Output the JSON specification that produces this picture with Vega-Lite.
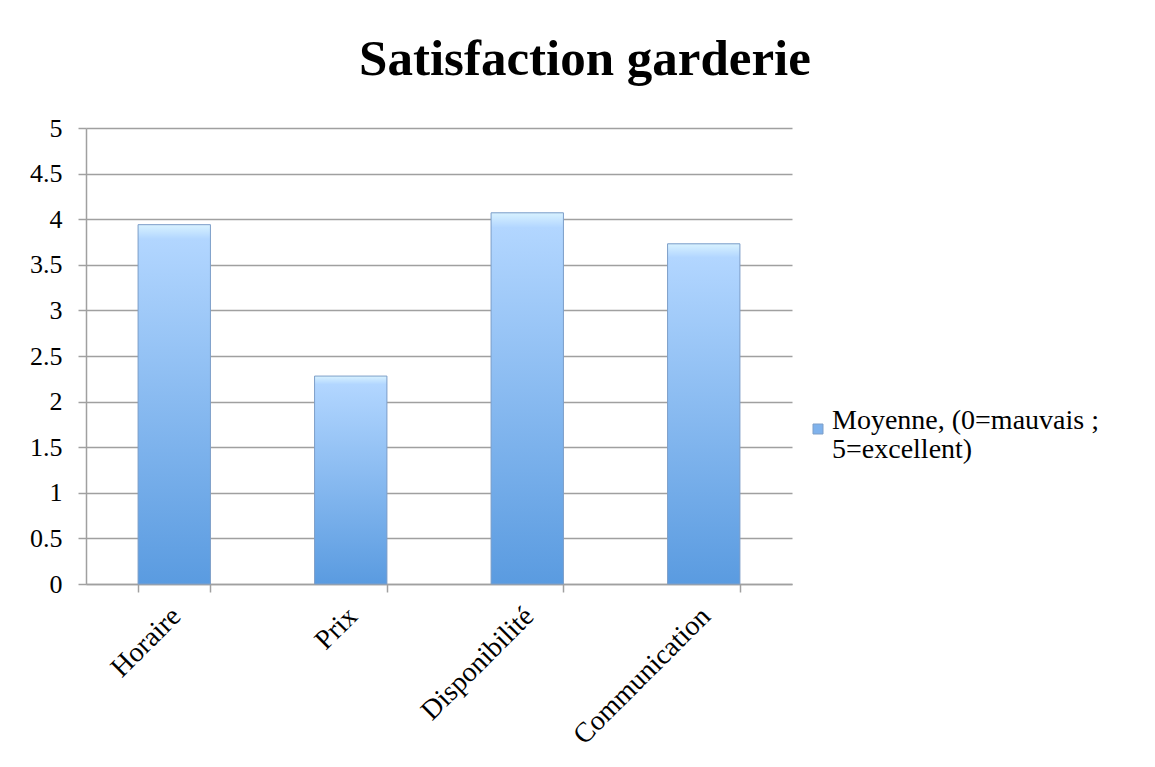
{
  "$schema": "https://vega.github.io/schema/vega-lite/v6.json",
  "autosize": {"type": "none"},
  "width": 706,
  "height": 456,
  "padding": {"left": 86, "top": 128, "right": 363, "bottom": 183},
  "background": "white",
  "title": {
    "text": "Satisfaction garderie",
    "font": "Liberation Serif",
    "fontSize": 51,
    "fontWeight": "bold",
    "color": "#000000",
    "anchor": "middle",
    "dx": 146,
    "offset": 29
  },
  "data": {
    "values": [
      {"critere": "Horaire", "moyenne": 3.94, "serie": "Moyenne, (0=mauvais ; 5=excellent)"},
      {"critere": "Prix", "moyenne": 2.28, "serie": "Moyenne, (0=mauvais ; 5=excellent)"},
      {"critere": "Disponibilité", "moyenne": 4.07, "serie": "Moyenne, (0=mauvais ; 5=excellent)"},
      {"critere": "Communication", "moyenne": 3.73, "serie": "Moyenne, (0=mauvais ; 5=excellent)"}
    ]
  },
  "encoding": {
    "x": {
      "field": "critere",
      "type": "nominal",
      "sort": null,
      "scale": {"paddingInner": 0.59, "paddingOuter": 0.295},
      "axis": {
        "title": null,
        "labelAngle": -45,
        "labelFont": "Liberation Serif",
        "labelFontSize": 28,
        "labelColor": "#000000",
        "labelLimit": 400,
        "tickBand": "extent",
        "tickSize": 8,
        "tickColor": "#a0a0a0",
        "tickWidth": 1.5,
        "domainColor": "#a0a0a0",
        "domainWidth": 1.5,
        "labelPadding": 10,
        "labelOffset": -8
      }
    },
    "y": {
      "field": "moyenne",
      "type": "quantitative",
      "scale": {"domain": [0, 5]},
      "axis": {
        "title": null,
        "values": [0, 0.5, 1, 1.5, 2, 2.5, 3, 3.5, 4, 4.5, 5],
        "format": "~g",
        "labelFont": "Liberation Serif",
        "labelFontSize": 26,
        "labelColor": "#000000",
        "labelPadding": 16,
        "tickSize": 8,
        "tickColor": "#a0a0a0",
        "tickWidth": 1.5,
        "domainColor": "#a0a0a0",
        "domainWidth": 1.5,
        "gridColor": "#a0a0a0",
        "gridWidth": 1.5
      }
    }
  },
  "layer": [
    {
      "mark": {"type": "bar"},
      "encoding": {
        "color": {
          "field": "serie",
          "type": "nominal",
          "scale": {"range": ["#7fb2ec"]},
          "legend": {
            "title": null,
            "orient": "none",
            "legendX": 718,
            "legendY": 287,
            "symbolType": "square",
            "symbolSize": 100,
            "symbolStrokeColor": "#7f9fc8",
            "labelFont": "Liberation Serif",
            "labelFontSize": 28,
            "labelColor": "#000000",
            "labelLimit": 400,
            "labelExpr": "['Moyenne, (0=mauvais ;', '5=excellent)']",
            "labelBaseline": "alphabetic",
            "labelOffset": 0,
            "encode": {
              "labels": {
                "update": {"lineHeight": {"value": 29}}
              },
              "symbols": {
                "update": {
                  "fill": {"value": {"gradient": "linear", "x1": 0, "y1": 0, "x2": 0, "y2": 1,
                    "stops": [
                      {"offset": 0, "color": "#c8e6ff"},
                      {"offset": 1, "color": "#4f8fd8"}
                    ]}},
                  "stroke": {"value": "#7f9fc8"},
                  "strokeWidth": {"value": 1}
                }
              }
            }
          }
        }
      }
    },
    {
      "mark": {
        "type": "bar",
        "stroke": "#7f9fc8",
        "strokeWidth": 1,
        "fill": {"gradient": "linear", "x1": 0, "y1": 0, "x2": 0, "y2": 1,
          "stops": [
            {"offset": 0, "color": "#d8f2ff"},
            {"offset": 0.04, "color": "#b2d6ff"},
            {"offset": 1, "color": "#5a9be0"}
          ]}
      }
    }
  ],
  "config": {"view": {"stroke": null}}
}
